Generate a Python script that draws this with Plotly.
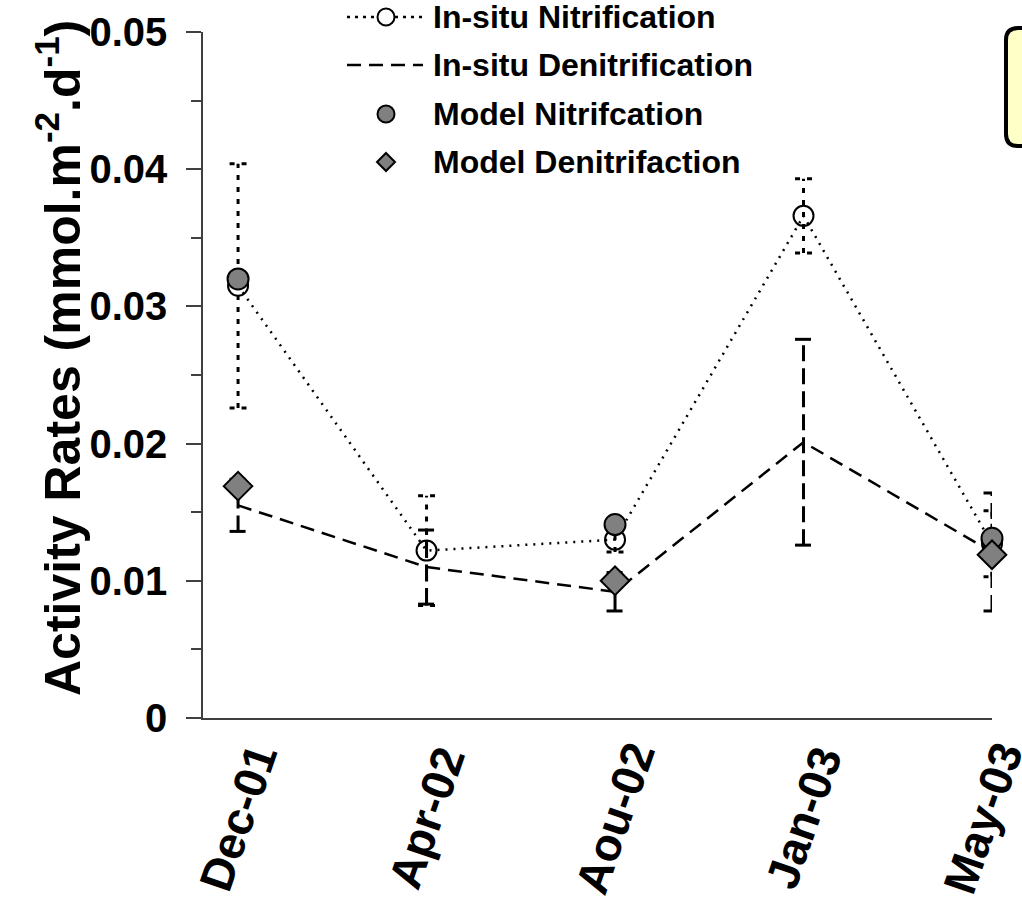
import plotly.graph_objects as go

# ---------------- data ----------------
categories = ["Dec-01", "Apr-02", "Aou-02", "Jan-03", "May-03"]

insitu_nit = [0.0315, 0.0122, 0.0130, 0.0366, 0.0127]
insitu_nit_err = [0.0089, 0.0040, 0.0009, 0.0027, 0.0024]

insitu_den = [0.0155, 0.0110, 0.0092, 0.0201, 0.0121]
insitu_den_err = [0.0019, 0.0027, 0.0014, 0.0075, 0.0043]

model_nit = [0.0320, None, 0.0141, None, 0.0131]
model_den = [0.0169, None, 0.0100, None, 0.0119]

y_ticks = [0, 0.01, 0.02, 0.03, 0.04, 0.05]
y_ticktext = ["0", "0.01", "0.02", "0.03", "0.04", "0.05"]

legend_names = ["In-situ Nitrification", "In-situ Denitrification",
                "Model Nitrifcation", "Model Denitrifaction"]

# ---------------- layout geometry ----------------
W, H = 1022, 900
ML, MR, MT, MB = 203, 30, 32, 182
PW, PH = W - ML - MR, H - MT - MB


def px2x(px):
    return (px - ML) / PW


def py2y(py):
    return (H - MB - py) / PH


xs = list(range(len(categories)))
CAP = 0.045  # half width of error bar caps in x units


def errbar_xy(vals, errs):
    ex, ey = [], []
    for x, v, e in zip(xs, vals, errs):
        lo, hi = v - e, v + e
        ex += [x, x, None, x - CAP, x + CAP, None, x - CAP, x + CAP, None]
        ey += [lo, hi, None, hi, hi, None, lo, lo, None]
    return ex, ey


FONT = "Liberation Sans, Arial, sans-serif"
GREY = "#808080"
NIT_DASH = "2px,6px"
DEN_DASH = "14px,8px"

fig = go.Figure()

# error bars
ex, ey = errbar_xy(insitu_nit, insitu_nit_err)
fig.add_trace(go.Scatter(x=ex, y=ey, mode="lines", showlegend=False, hoverinfo="skip",
                         line=dict(color="black", width=3, dash="5px,7px"), cliponaxis=False))
ex, ey = errbar_xy(insitu_den, insitu_den_err)
fig.add_trace(go.Scatter(x=ex, y=ey, mode="lines", showlegend=False, hoverinfo="skip",
                         line=dict(color="black", width=3, dash="16px,7px"), cliponaxis=False))

# in-situ series
fig.add_trace(go.Scatter(x=xs, y=insitu_nit, mode="lines+markers", name=legend_names[0],
                         showlegend=False,
                         line=dict(color="black", width=2.5, dash=NIT_DASH),
                         marker=dict(symbol="circle-open", size=20, color="black",
                                     line=dict(width=2, color="black")),
                         cliponaxis=False))
fig.add_trace(go.Scatter(x=xs, y=insitu_den, mode="lines", name=legend_names[1],
                         showlegend=False,
                         line=dict(color="black", width=2.5, dash=DEN_DASH),
                         cliponaxis=False))

# model series
fig.add_trace(go.Scatter(x=xs, y=model_nit, mode="markers", name=legend_names[2],
                         showlegend=False,
                         marker=dict(symbol="circle", size=21, color=GREY,
                                     line=dict(width=2, color="black")),
                         cliponaxis=False))
fig.add_trace(go.Scatter(x=xs, y=model_den, mode="markers", name=legend_names[3],
                         showlegend=False,
                         marker=dict(symbol="diamond", size=22, color=GREY,
                                     line=dict(width=2, color="black")),
                         cliponaxis=False))

shapes = []
annotations = []

# rounded yellow box at the top right (cropped in reference)
bx0, bx1, by0, by1, r = 1006, 1060, 28, 146, 12
path = (f"M {px2x(bx0 + r)},{py2y(by0)} L {px2x(bx1)},{py2y(by0)} "
        f"L {px2x(bx1)},{py2y(by1)} L {px2x(bx0 + r)},{py2y(by1)} "
        f"Q {px2x(bx0)},{py2y(by1)} {px2x(bx0)},{py2y(by1 - r)} "
        f"L {px2x(bx0)},{py2y(by0 + r)} "
        f"Q {px2x(bx0)},{py2y(by0)} {px2x(bx0 + r)},{py2y(by0)} Z")
shapes.append(dict(type="path", xref="paper", yref="paper", path=path,
                   fillcolor="#FFFFC8", line=dict(color="black", width=4)))

# ---------------- manual legend ----------------
LEG_ROWS = [17, 65, 114, 162]
LX0, LX1, LXC, LTX = 347, 423, 386, 432
MS = 8.5  # legend marker radius (px)


def circle_shape(cx, cy, rad, fill, lw):
    return dict(type="circle", xref="paper", yref="paper",
                x0=px2x(cx - rad), x1=px2x(cx + rad), y0=py2y(cy + rad), y1=py2y(cy - rad),
                fillcolor=fill, line=dict(color="black", width=lw))


# row 1: dotted line + open circle
shapes.append(dict(type="line", xref="paper", yref="paper",
                   x0=px2x(LX0), x1=px2x(LX1), y0=py2y(LEG_ROWS[0]), y1=py2y(LEG_ROWS[0]),
                   line=dict(color="black", width=2.5, dash="3px,5px")))
shapes.append(circle_shape(LXC, LEG_ROWS[0], MS, "white", 2))
# row 2: dashed line
shapes.append(dict(type="line", xref="paper", yref="paper",
                   x0=px2x(LX0), x1=px2x(LX1), y0=py2y(LEG_ROWS[1]), y1=py2y(LEG_ROWS[1]),
                   line=dict(color="black", width=2.5, dash="14px,8px")))
# row 3: grey circle
shapes.append(circle_shape(LXC, LEG_ROWS[2], MS, GREY, 2))
# row 4: grey diamond
cy = LEG_ROWS[3]
dpath = (f"M {px2x(LXC)},{py2y(cy - 9)} L {px2x(LXC + 9)},{py2y(cy)} "
         f"L {px2x(LXC)},{py2y(cy + 9)} L {px2x(LXC - 9)},{py2y(cy)} Z")
shapes.append(dict(type="path", xref="paper", yref="paper", path=dpath,
                   fillcolor=GREY, line=dict(color="black", width=2)))

for name, row in zip(legend_names, LEG_ROWS):
    annotations.append(dict(x=px2x(LTX), y=py2y(row), xref="paper", yref="paper",
                            text=name, showarrow=False, xanchor="left", yanchor="middle",
                            borderpad=0,
                            font=dict(size=32, family=FONT, weight="bold", color="black")))

# x category labels (rotated about their centre, as in the reference)
for i, (x, lab) in enumerate(zip(xs, categories)):
    annotations.append(dict(x=x, y=py2y(818), xref="x", yref="paper", text=lab,
                            showarrow=False, textangle=-71, xanchor="center",
                            yanchor="middle", borderpad=0,
                            xshift=-9 if i == len(xs) - 1 else 0,
                            font=dict(size=46, family=FONT, weight="bold", color="black")))

# y axis title
annotations.append(dict(x=px2x(59), y=py2y(358), xref="paper", yref="paper",
                        text="Activity Rates (mmol.m<sup>-2</sup>.d<sup>-1</sup>)",
                        textangle=-90, showarrow=False, xanchor="center", yanchor="middle",
                        font=dict(size=50, family=FONT, weight="bold", color="black")))

fig.update_layout(
    width=W, height=H,
    margin=dict(l=ML, r=MR, t=MT, b=MB, autoexpand=False),
    paper_bgcolor="white", plot_bgcolor="white",
    font=dict(family=FONT, color="black"),
    showlegend=False,
    xaxis=dict(range=[-0.186, 4], tickmode="array", tickvals=xs, ticktext=categories,
               showticklabels=False,
               showgrid=False, zeroline=False, showline=True,
               linecolor="#404040", linewidth=1.5, ticks="", automargin=False),
    yaxis=dict(range=[0, 0.05], tickmode="array", tickvals=y_ticks, ticktext=y_ticktext,
               showgrid=False, zeroline=False, showline=True,
               linecolor="#404040", linewidth=1.5, ticks="outside", ticklen=15,
               tickwidth=1.5, tickcolor="#404040", automargin=False,
               minor=dict(dtick=0.005, ticks="outside", ticklen=10, tickwidth=1.5,
                          tickcolor="#404040", showgrid=False),
               ticklabelstandoff=11,
               tickfont=dict(size=40, family=FONT, weight="bold", color="black")),
    shapes=shapes,
    annotations=annotations,
)

fig.write_html("out.html")
